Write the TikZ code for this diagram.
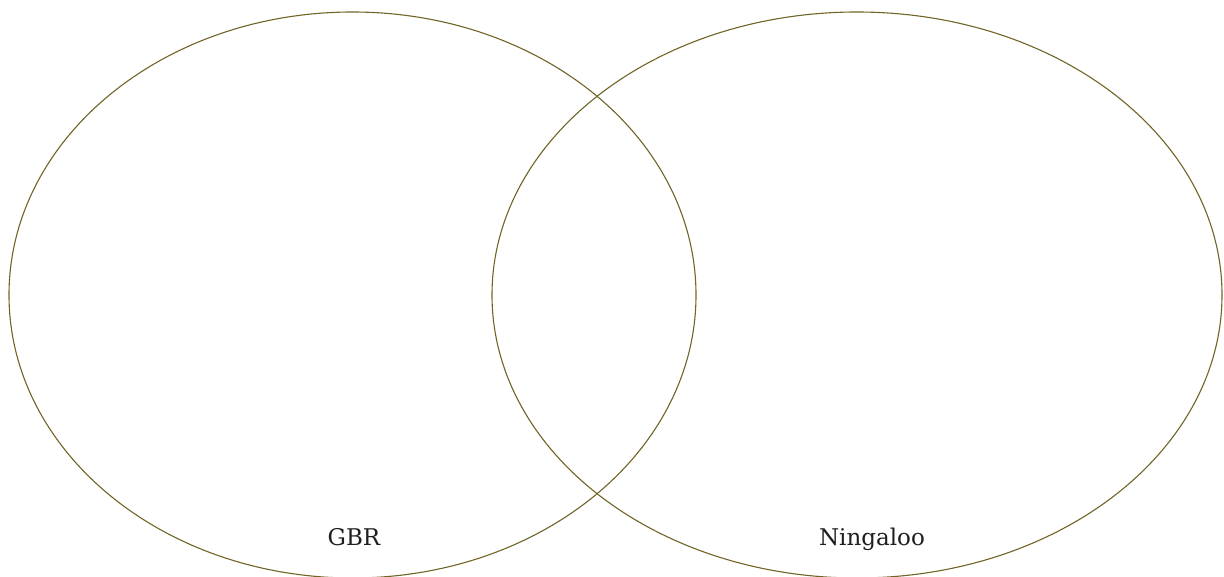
\documentclass[tikz,border=0pt]{standalone}
\usepackage{fontspec}
\usetikzlibrary{shapes.geometric}
\setmainfont{DejaVu Serif}
\definecolor{vennline}{RGB}{112,100,38}
\definecolor{labeltext}{RGB}{30,30,30}
\begin{document}
\begin{tikzpicture}[x=1pt,y=-1pt,
  venn/.style={draw=vennline, line width=1.1pt},
  lbl/.style={text=labeltext, font=\fontsize{23}{27}\selectfont, inner sep=0pt, anchor=base}]
\useasboundingbox (0,0) rectangle (1224,577);
\begin{scope}
\clip (0,0) rectangle (1224,577);
\node[venn, ellipse, minimum width=687pt, minimum height=566pt, inner sep=0pt] (gbr) at (352.5,295) {};
\node[venn, ellipse, minimum width=730pt, minimum height=566pt, inner sep=0pt] (ning) at (857,295) {};
\end{scope}
\node[lbl] (gbrlabel) at (354,545.5) {GBR};
\node[lbl] (ninglabel) at (872,545.5) {Ningaloo};
\end{tikzpicture}
\end{document}
